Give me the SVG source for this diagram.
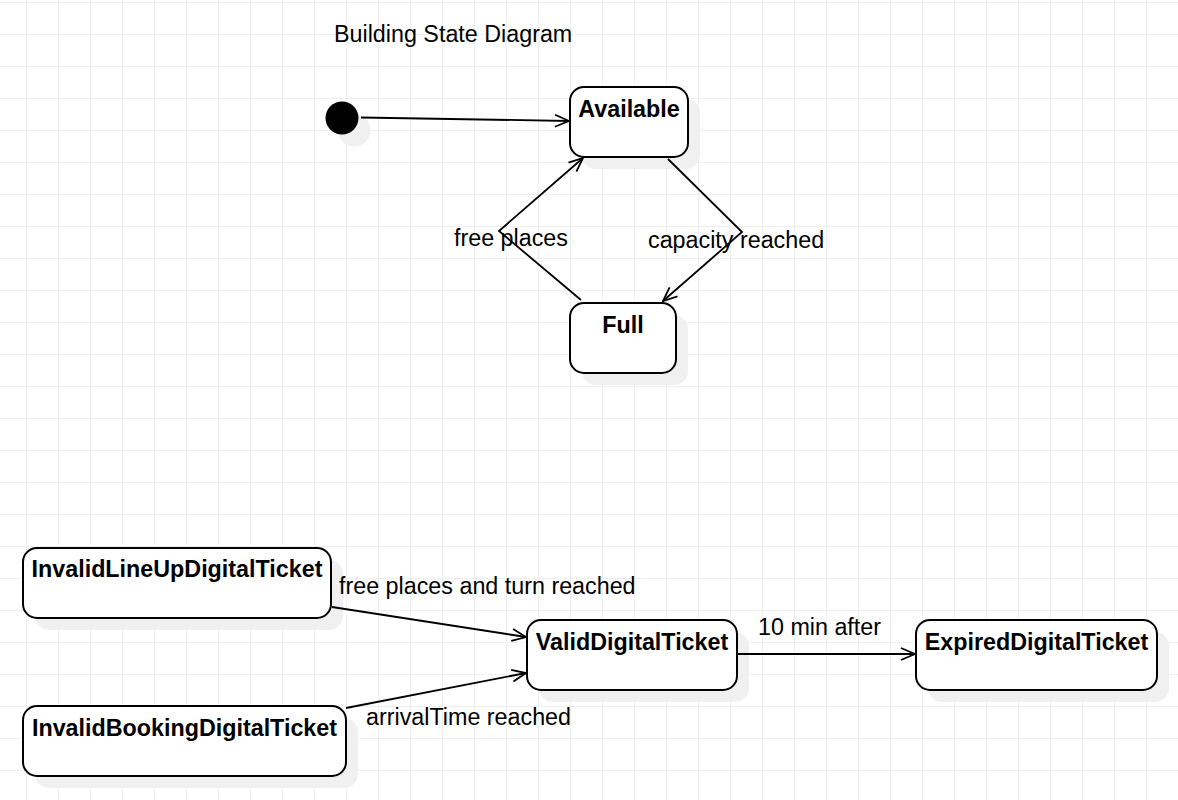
<svg xmlns="http://www.w3.org/2000/svg" width="1178" height="800" viewBox="0 0 1178 800">
<defs>
<pattern id="grid" x="26" y="2" width="32" height="32" patternUnits="userSpaceOnUse">
<path d="M0 0H32M0 0V32" fill="none" stroke="#ebebeb" stroke-width="1.5"/>
</pattern>
<marker id="open" viewBox="0 0 16 14" refX="15" refY="7" markerWidth="16" markerHeight="14" markerUnits="userSpaceOnUse" orient="auto">
<path d="M1 1L15 7L1 13" fill="none" stroke="#000" stroke-width="1.8"/>
</marker>
</defs>
<style>
.box{fill:#fff;stroke:#000;stroke-width:2}
.sh{fill:#f0f0f0;stroke:none}
.t{font-family:"Liberation Sans",Arial,sans-serif;font-size:23.3px;fill:#000}
.b{font-weight:bold;text-anchor:middle}
.e{fill:none;stroke:#000;stroke-width:1.8;marker-end:url(#open)}
</style>
<rect width="1178" height="800" fill="#fff"/>
<rect width="1178" height="800" fill="url(#grid)"/>
<text class="t" x="334" y="42">Building State Diagram</text>
<g id="initial">
<circle class="sh" cx="354" cy="130" r="16.5"/>
<circle cx="342" cy="118" r="16.5" fill="#000"/>
</g>
<g id="available">
<rect class="sh" x="582" y="99" width="118" height="70" rx="14"/>
<rect class="box" x="570" y="87" width="118" height="70" rx="14"/>
<text class="t b" x="629" y="117">Available</text>
</g>
<g id="full">
<rect class="sh" x="582" y="315" width="106" height="70" rx="14"/>
<rect class="box" x="570" y="303" width="106" height="70" rx="14"/>
<text class="t b" x="623" y="333">Full</text>
</g>
<g id="invalidLineUp">
<rect class="sh" x="35" y="560" width="308" height="70" rx="14"/>
<rect class="box" x="23" y="548" width="308" height="70" rx="14"/>
<text class="t b" x="177" y="577">InvalidLineUpDigitalTicket</text>
</g>
<g id="invalidBooking">
<rect class="sh" x="35" y="718" width="323" height="70" rx="14"/>
<rect class="box" x="23" y="706" width="323" height="70" rx="14"/>
<text class="t b" x="184.5" y="736">InvalidBookingDigitalTicket</text>
</g>
<g id="valid">
<rect class="sh" x="539" y="632" width="210" height="70" rx="14"/>
<rect class="box" x="527" y="620" width="210" height="70" rx="14"/>
<text class="t b" x="632" y="650">ValidDigitalTicket</text>
</g>
<g id="expired">
<rect class="sh" x="928" y="632" width="241" height="70" rx="14"/>
<rect class="box" x="916" y="620" width="241" height="70" rx="14"/>
<text class="t b" x="1036.5" y="650">ExpiredDigitalTicket</text>
</g>
<g id="connectors">
<path class="e" d="M361 117.5L569 121"/>
<path class="e" d="M581 300L499 231L583 158"/>
<path class="e" d="M668 159L742 232L663 301"/>
<path class="e" d="M332 607L526 637"/>
<path class="e" d="M346 708L526 673"/>
<path class="e" d="M737 654L915 654"/>
<text class="t" x="454" y="246">free places</text>
<text class="t" x="648" y="248">capacity reached</text>
<text class="t" x="339" y="594">free places and turn reached</text>
<text class="t" x="758" y="635">10 min after</text>
<text class="t" x="366" y="725">arrivalTime reached</text>
</g>
</svg>
